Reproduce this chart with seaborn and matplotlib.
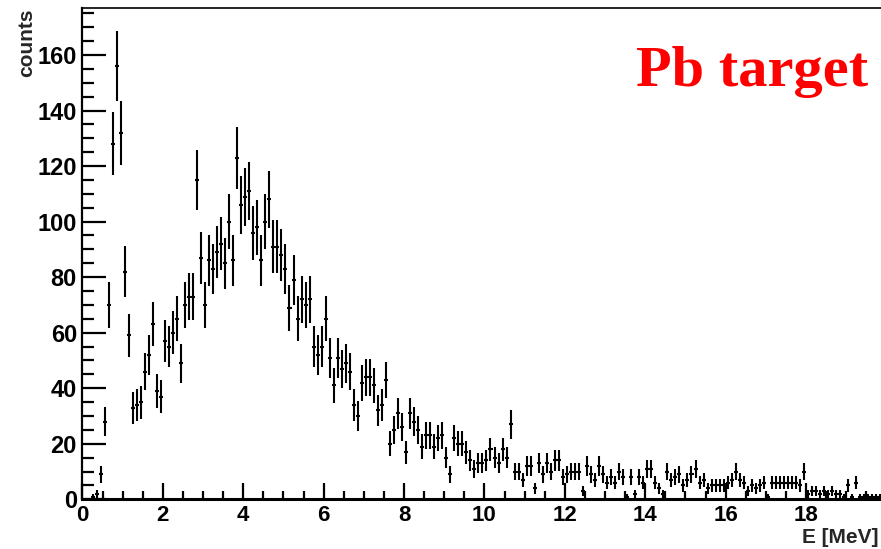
import numpy as np
import seaborn as sns
import matplotlib
matplotlib.use("Agg")
import matplotlib.pyplot as plt
from matplotlib.ticker import MultipleLocator

# histogram: 0.1 MeV bins from 0 to 20 MeV, one row per MeV
bin_lo = 0.0
bin_width = 0.1
counts = [
    0, 0, 1, 2, 9, 28, 70, 128, 156, 132,        # 0-1
    82, 59, 33, 34, 35, 46, 52, 63, 39, 37,      # 1-2
    57, 55, 60, 65, 49, 70, 73, 73, 115, 87,     # 2-3
    70, 86, 83, 89, 92, 85, 100, 86, 123, 106,   # 3-4
    109, 111, 96, 98, 86, 100, 108, 91, 91, 88,  # 4-5
    83, 69, 79, 65, 72, 70, 72, 55, 52, 55,      # 5-6
    65, 51, 41, 51, 47, 49, 46, 34, 30, 42,      # 6-7
    44, 44, 41, 32, 34, 43, 20, 25, 31, 26,      # 7-8
    17, 31, 28, 25, 19, 23, 23, 19, 22, 23,      # 8-9
    15, 9, 22, 20, 20, 17, 14, 11, 13, 13,       # 9-10
    14, 18, 15, 13, 18, 15, 27, 10, 10, 7,       # 10-11
    12, 12, 4, 13, 9, 13, 10, 14, 14, 8,         # 11-12
    9, 10, 10, 10, 3, 12, 9, 7, 12, 9,           # 12-13
    6, 8, 6, 10, 8, 1, 8, 2, 8, 6,               # 13-14
    11, 11, 6, 4, 2, 10, 7, 8, 9, 5,             # 14-15
    7, 9, 11, 6, 7, 4, 5, 5, 5, 5,               # 15-16
    6, 7, 10, 7, 6, 3, 5, 4, 5, 6,               # 16-17
    1, 6, 6, 6, 6, 6, 6, 6, 5, 10,               # 17-18
    2, 3, 3, 2, 3, 2, 3, 2, 2, 1,                # 18-19
    5, 1, 6, 1, 1, 1, 1, 1, 1, 1,                # 19-20
]
x_ticks = [0, 2, 4, 6, 8, 10, 12, 14, 16, 18]

x_label = "E [MeV]"
y_label = "counts"
tag = "Pb target"

sns.set_theme(style="ticks")
plt.rcParams["font.family"] = ["Liberation Sans", "DejaVu Sans"]
plt.rcParams["font.weight"] = "bold"
plt.rcParams["axes.labelweight"] = "bold"

c = np.array(counts, dtype=float)
energy = bin_lo + bin_width * (np.arange(len(c)) + 0.5)
keep = c > 0

fig = plt.figure(figsize=(8.81, 5.49), dpi=100)
# right edge of the frame falls just outside the picture, like the original crop
ax = fig.add_axes([0.0936, 0.0905, 0.9126, 0.8949])

ax.errorbar(energy[keep], c[keep], xerr=bin_width / 2, yerr=np.sqrt(c[keep]),
            fmt="none", ecolor="black", elinewidth=1.5, capsize=0)

ax.set_xlim(0, 20)
ax.set_ylim(0, 1.05 * (c.max() + np.sqrt(c.max())))

ax.set_xticks(x_ticks)
ax.xaxis.set_minor_locator(MultipleLocator(0.5))
ax.yaxis.set_major_locator(MultipleLocator(20))
ax.yaxis.set_minor_locator(MultipleLocator(5))
ax.tick_params(axis="both", which="both", direction="in", width=1.6,
               color="black", labelcolor="black", top=False, right=False)
ax.tick_params(axis="y", which="major", length=17, pad=4, labelsize=17)
ax.tick_params(axis="y", which="minor", length=8.5)
ax.tick_params(axis="x", which="major", length=11.5, pad=4, labelsize=16)
ax.tick_params(axis="x", which="minor", length=5.8)

ax.spines["left"].set_linewidth(1.6)
ax.spines["bottom"].set_linewidth(2.2)
ax.spines["top"].set_linewidth(1.2)
for s in ax.spines.values():
    s.set_color("black")

ax.set_ylabel(y_label, loc="top", fontsize=15)
ax.yaxis.set_label_coords(-0.058, 1.0)
ax.set_xlabel(x_label, loc="right", fontsize=15)
ax.xaxis.set_label_coords(0.99, -0.0575)

fig.text(0.985, 0.843, tag, color="red", fontsize=42, fontweight="bold",
         family=["Liberation Serif", "DejaVu Serif"], ha="right", va="baseline")

fig.savefig("out.png", dpi=100)
